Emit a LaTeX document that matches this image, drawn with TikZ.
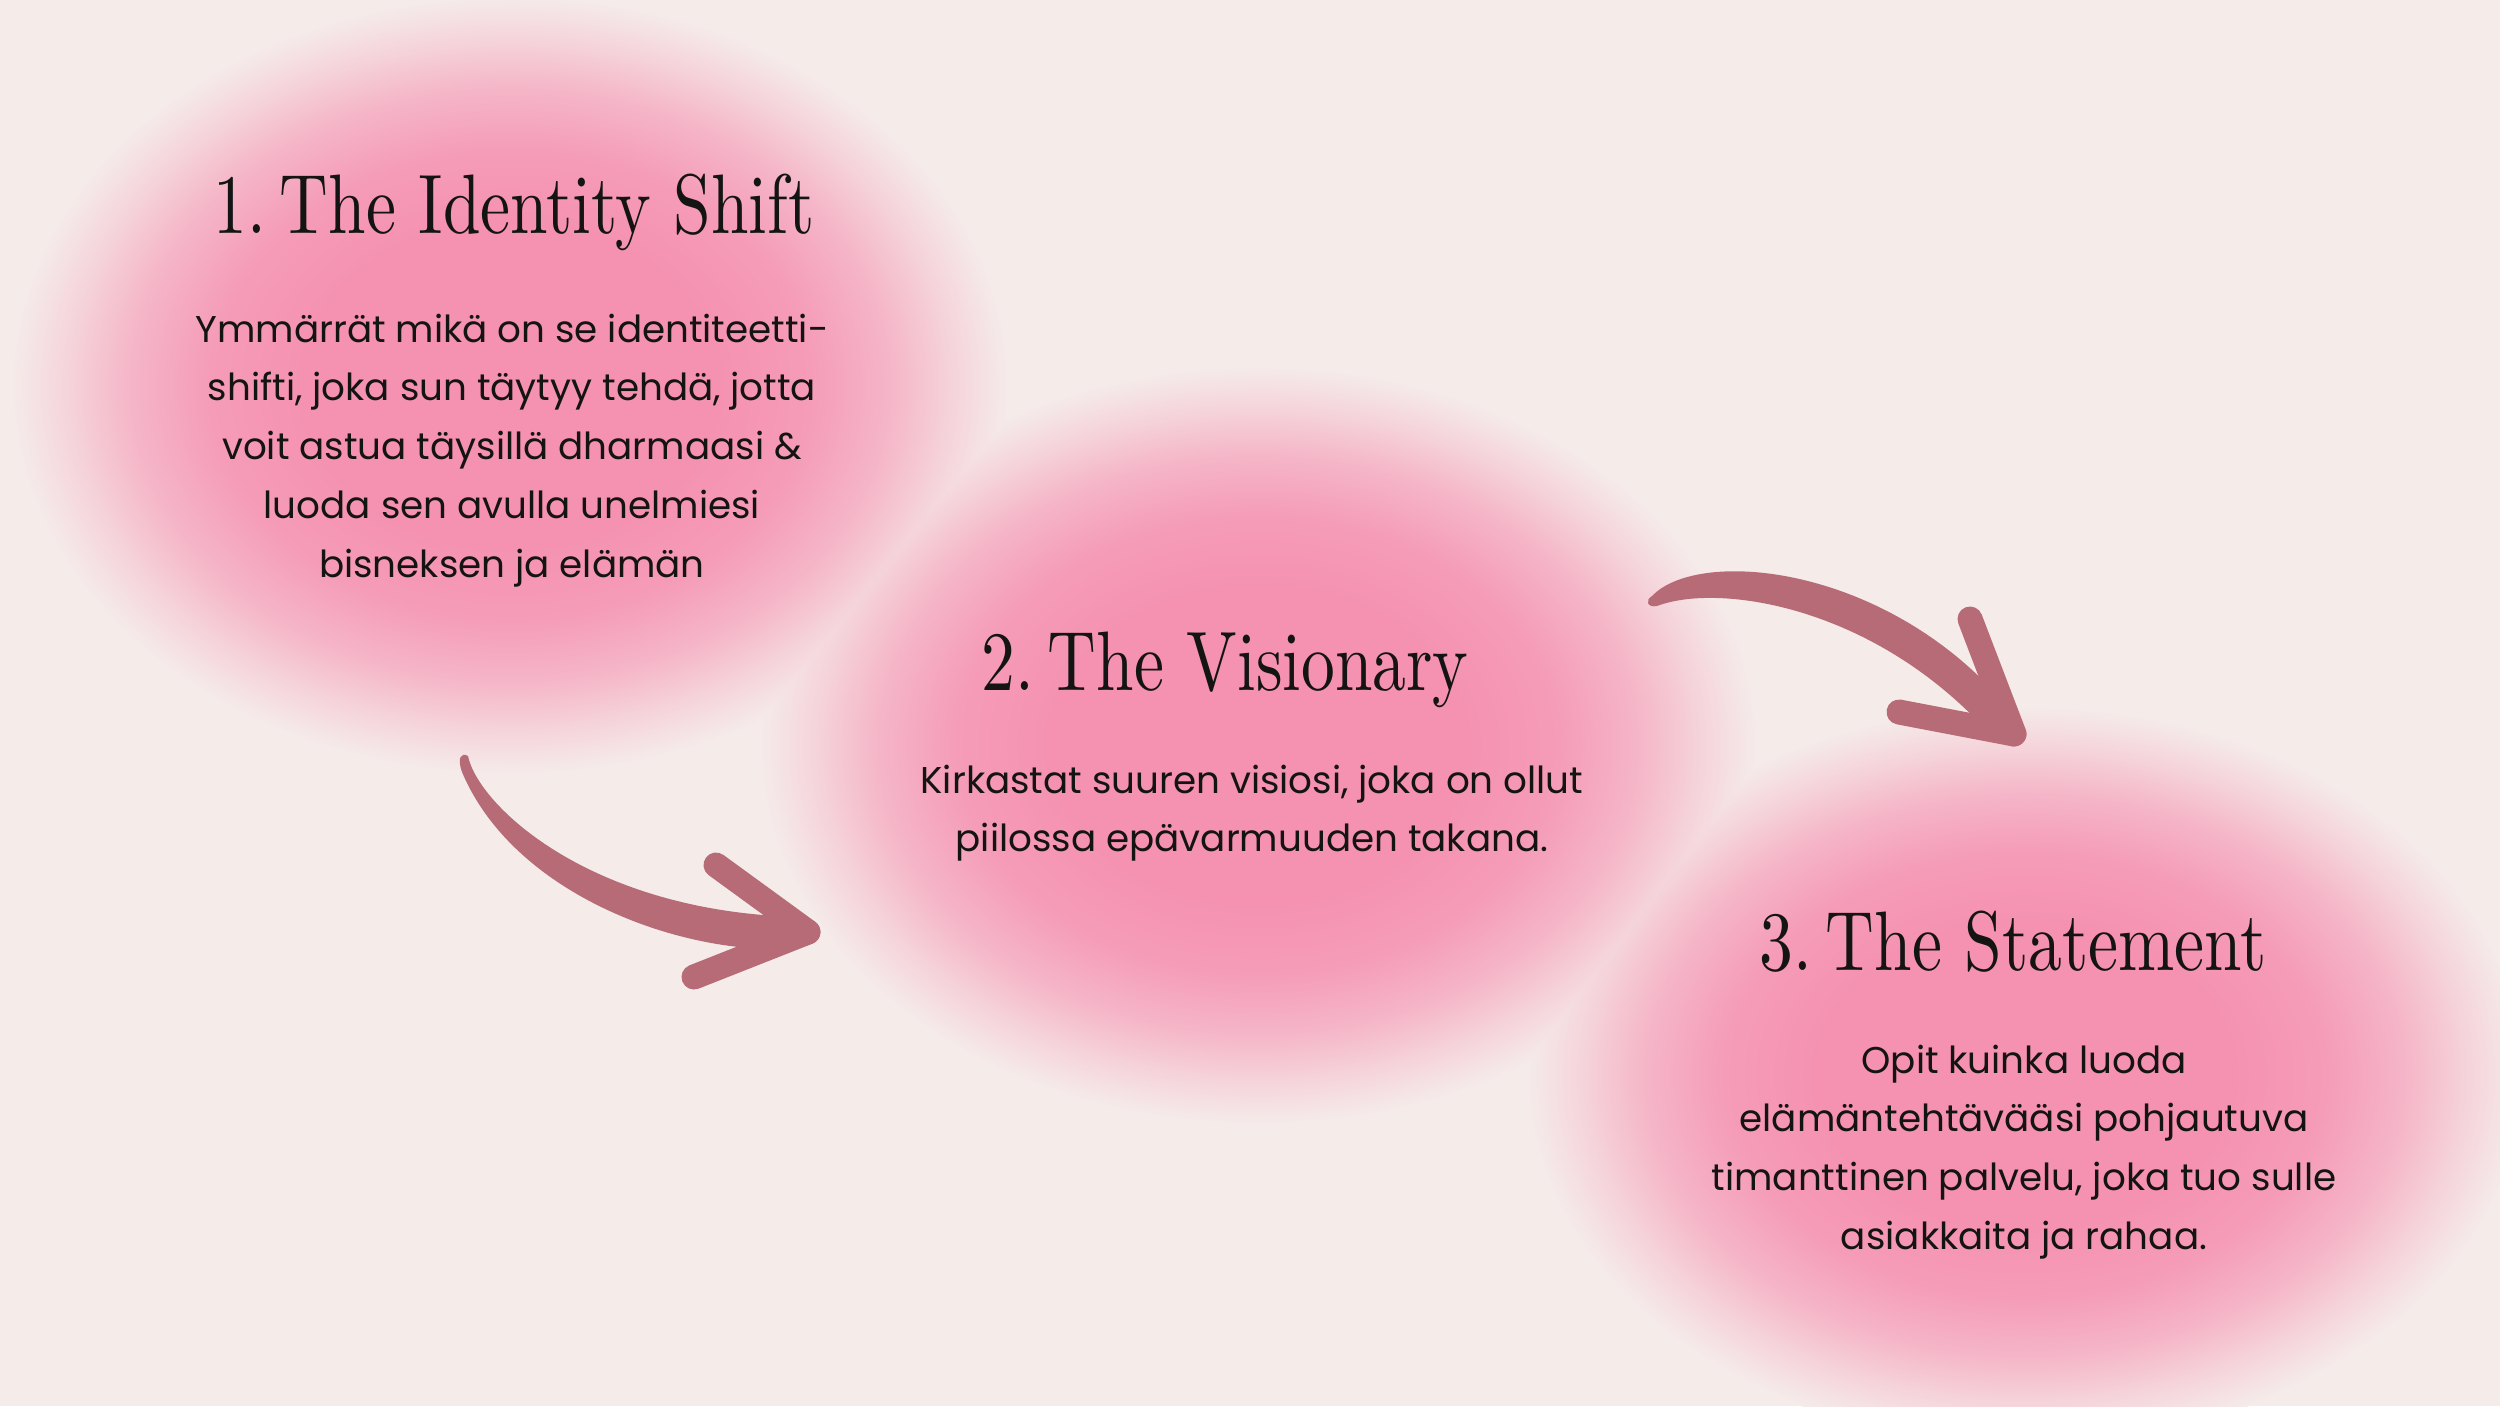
\documentclass[tikz,border=0pt]{standalone}
\usepackage{fontspec}
\newfontfamily\titlefont{lmroman10-regular.otf}[FakeStretch=0.8]
\newfontfamily\bodyfont{Poppins}
\definecolor{bgc}{HTML}{F5ECEA}
\definecolor{blobpink}{HTML}{F891B1}
\definecolor{arrowc}{HTML}{B76B76}
\definecolor{inkc}{HTML}{141414}
\pgfdeclareradialshading{blob}{\pgfpoint{0bp}{0bp}}{color(0bp)=(blobpink); color(10bp)=(blobpink); color(15bp)=(blobpink!88!bgc); color(19bp)=(blobpink!60!bgc); color(22bp)=(blobpink!28!bgc); color(25bp)=(bgc); color(50bp)=(bgc)}
\tikzset{
  titletext/.style={font=\titlefont\fontsize{24}{28}\selectfont, text=inkc, inner sep=0pt, anchor=base},
  bodytext/.style={font=\bodyfont\fontsize{10.6}{16.71}\selectfont, text=inkc, inner sep=0pt, anchor=base},
  barb/.style={draw=arrowc, line width=0.25cm, line cap=round},
  shaft/.style={fill=arrowc},
  blobshape/.style={shading=blob, blend mode=darken}
}
\newcommand{\bodylines}[1]{\setlength{\tabcolsep}{0pt}\begin{tabular}[t]{c}#1\end{tabular}}
\begin{document}
\begin{tikzpicture}[x=0.01cm,y=-0.01cm]
\fill[bgc] (0,0) rectangle (2500,1406);
\useasboundingbox (0,0) rectangle (2500,1406);
% blobs
\shade[blobshape] (510,385) ellipse [x radius=5.0cm, y radius=3.9cm];
\shade[blobshape] (1258,745) ellipse [x radius=5.0cm, y radius=3.8cm];
\shade[blobshape] (2025,1075) ellipse [x radius=5.0cm, y radius=3.7cm];
% titles
\node[titletext] (t1) at (514,233) {1.\,The Identity Shift};
\node[titletext] (t2) at (1225,690) {2.\,The Visionary};
\node[titletext] (t3) at (2013,970) {3.\,The Statement};
% bodies
\node[bodytext] (b1) at (512,342) {\bodylines{Ymmärrät mikä on se identiteetti-\\shifti, joka sun täytyy tehdä, jotta\\voit astua täysillä dharmaasi \&\\luoda sen avulla unelmiesi\\bisneksen ja elämän}};
\node[bodytext] (b2) at (1252,793) {\bodylines{Kirkastat suuren visiosi, joka on ollut\\piilossa epävarmuuden takana.}};
\node[bodytext] (b3) at (2024,1073) {\bodylines{Opit kuinka luoda\\elämäntehtävääsi pohjautuva\\timanttinen palvelu, joka tuo sulle\\asiakkaita ja rahaa.}};
% arrow 1
\coordinate (a1tail) at (468,756);
\coordinate (a1tip) at (808,932);
\coordinate (a1up) at (716,865);
\coordinate (a1lo) at (694,977);
\fill[shaft] (a1tail) .. controls (478,805) and (590,912) .. (800,917) -- (800,948) .. controls (690,958) and (515,898) .. (462,772) .. controls (457,758) and (461,752) .. (a1tail) -- cycle;
\draw[barb] (a1up) -- (a1tip);
\draw[barb] (a1lo) -- (a1tip);
% arrow 2
\coordinate (a2tail) at (1652,596);
\coordinate (a2tip) at (2014,734);
\coordinate (a2up) at (1970,619);
\coordinate (a2lo) at (1899,712);
\fill[shaft] (a2tail) .. controls (1700,546) and (1892,566) .. (2010,710) -- (1995,740) .. controls (1880,607) and (1720,582) .. (1657,606) .. controls (1647,608) and (1645,600) .. (a2tail) -- cycle;
\draw[barb] (a2up) -- (a2tip);
\draw[barb] (a2lo) -- (a2tip);
\end{tikzpicture}
\end{document}
